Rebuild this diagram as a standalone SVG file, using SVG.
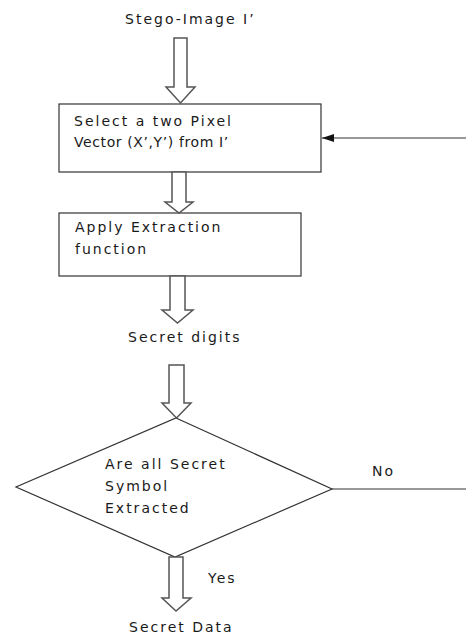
<svg xmlns="http://www.w3.org/2000/svg" width="466" height="639" viewBox="0 0 466 639">
<style>
.t{font-family:"DejaVu Sans",Verdana,sans-serif;font-size:14px;letter-spacing:2px;fill:#1a1a1a}
.box{fill:#fff;stroke:#333;stroke-width:1.2}
.blk{fill:#fff;stroke:#555;stroke-width:1.5;stroke-linejoin:miter}
.ln{fill:none;stroke:#333;stroke-width:1.2}
</style>
<defs>
<marker id="ah" markerWidth="12" markerHeight="8" refX="12" refY="4" orient="auto" markerUnits="userSpaceOnUse">
<path d="M0,0 L12,4 L0,8 Z" fill="#111"/>
</marker>
</defs>
<rect width="466" height="639" fill="#fff"/>
<g id="start"><text class="t" x="125" y="24">Stego-Image I’</text></g>
<g id="select">
<rect class="box" x="59" y="104" width="262" height="68"/>
<text class="t" x="74" y="126">Select a two Pixel</text>
<text class="t" x="74" y="147" style="letter-spacing:0.6px">Vector (X’,Y’) from I’</text>
</g>
<g id="extract">
<rect class="box" x="59" y="213" width="242" height="63"/>
<text class="t" x="75" y="232">Apply Extraction</text>
<text class="t" x="75" y="254">function</text>
</g>
<g id="digits"><text class="t" x="128" y="342">Secret digits</text></g>
<g id="decision">
<polygon class="box" points="176,418 332,489 175,557 16,487"/>
<text class="t" x="105" y="469">Are all Secret</text>
<text class="t" x="105" y="491">Symbol</text>
<text class="t" x="105" y="513">Extracted</text>
</g>
<g id="output"><text class="t" x="129" y="632">Secret Data</text></g>
<g id="connectors">
<polygon class="blk" points="174,38 187,38 187,87 195,87 180.5,103 166,87 174,87"/>
<polygon class="blk" points="172,172 186,172 186,202 193,202 179,213 165,202 172,202"/>
<polygon class="blk" points="170,276 185,276 185,310 193,310 177.5,323 162,310 170,310"/>
<polygon class="blk" points="169,365 184,365 184,403 191,403 176.5,418 162,403 169,403"/>
<polygon class="blk" points="169,557 183,557 183,598 191,598 176,611 162,598 169,598"/>
<line class="ln" x1="332" y1="489" x2="466" y2="489"/>
<line class="ln" x1="466" y1="138" x2="322" y2="138" marker-end="url(#ah)"/>
<text class="t" x="372" y="476">No</text>
<text class="t" x="208" y="583">Yes</text>
</g>
</svg>
